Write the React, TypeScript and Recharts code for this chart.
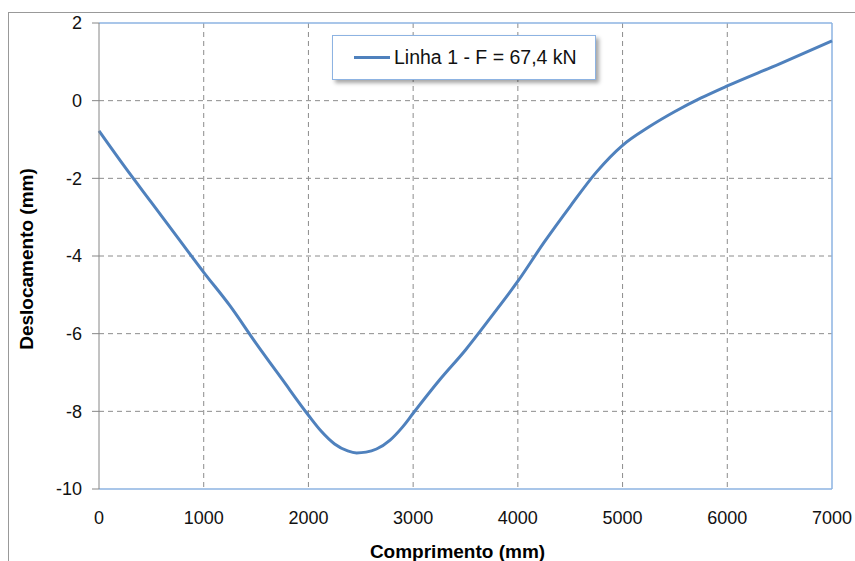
import { CartesianGrid, Line, LineChart, ReferenceLine, XAxis, YAxis } from "recharts";

// comprimento (mm) e deslocamento (mm)
const comprimento = [0, 250, 500, 750, 1000, 1250, 1500, 1750, 2000, 2125, 2250, 2375, 2460, 2550, 2650, 2780, 2900, 3000, 3250, 3500, 3750, 4000, 4250, 4500, 4750, 5000, 5250, 5500, 5750, 6000, 6500, 7000];
const deslocamento = [-0.78, -1.72, -2.62, -3.52, -4.42, -5.28, -6.25, -7.18, -8.1, -8.52, -8.84, -9.02, -9.07, -9.05, -8.97, -8.74, -8.4, -8.05, -7.2, -6.42, -5.55, -4.65, -3.65, -2.72, -1.84, -1.15, -0.68, -0.28, 0.07, 0.38, 0.95, 1.54];

const xTicks = [0, 1000, 2000, 3000, 4000, 5000, 6000, 7000];
const yTicks = [2, 0, -2, -4, -6, -8, -10];

const data = comprimento.map((x, i) => ({ x, y: deslocamento[i] }));

const FONT = "'Liberation Sans', Arial, sans-serif";
const LINE = "#4f81bd";
const BORDER = "#8db3e2";
const GRID = "#8c8c8c";

function LegendBox() {
  return (
    <div
      style={{
        position: "absolute",
        left: 332,
        top: 35,
        width: 262,
        height: 43,
        border: `1px solid ${BORDER}`,
        background: "#fff",
        boxShadow: "3px 3px 4px rgba(0,0,0,0.35)",
        display: "flex",
        alignItems: "center",
        fontFamily: FONT,
        fontSize: 19.5,
        color: "#111",
        whiteSpace: "nowrap",
      }}
    >
      <span style={{ display: "inline-block", width: 36, height: 3, background: LINE, marginLeft: 21, marginRight: 4 }} />
      Linha 1 - F = 67,4 kN
    </div>
  );
}

export default function App() {
  return (
    <div
      style={{
        position: "absolute",
        left: 0,
        top: 0,
        width: 855,
        height: 561,
        overflow: "hidden",
        background: "#fff",
        fontFamily: FONT,
      }}
    >
      <div style={{ position: "absolute", left: 0, top: 0 }}>
        <LineChart width={855} height={561} data={data} margin={{ top: 23, right: 23, bottom: 0, left: 0 }}>
          <CartesianGrid stroke={GRID} strokeDasharray="5 4" horizontalValues={[0, -2, -4, -6, -8]} verticalValues={[1000, 2000, 3000, 4000, 5000, 6000]} />
          <XAxis
            dataKey="x"
            type="number"
            domain={[0, 7000]}
            ticks={xTicks}
            axisLine={false}
            tickLine={false}
            tickMargin={16}
            height={72}
            tick={{ fill: "#111", fontSize: 18, fontFamily: FONT }}
            label={{
              value: "Comprimento (mm)",
              position: "insideBottom",
              offset: 3,
              dx: -8,
              fill: "#000",
              fontSize: 19,
              fontWeight: "bold",
              fontFamily: FONT,
            }}
          />
          <YAxis
            type="number"
            domain={[-10, 2]}
            ticks={yTicks}
            width={99}
            stroke="#868686"
            tickSize={7}
            tickMargin={10}
            tick={{ fill: "#111", fontSize: 18, fontFamily: FONT }}
            label={{
              value: "Deslocamento  (mm)",
              angle: -90,
              position: "center",
              dx: -23,
              dy: 3,
              fill: "#000",
              fontSize: 19,
              fontWeight: "bold",
              fontFamily: FONT,
            }}
          />
          <ReferenceLine y={2} stroke={BORDER} strokeWidth={1.5} />
          <ReferenceLine y={-10} stroke={BORDER} strokeWidth={1.5} />
          <ReferenceLine x={7000} stroke={BORDER} strokeWidth={1.5} />
          <Line
            type="monotone"
            dataKey="y"
            stroke={LINE}
            strokeWidth={3}
            dot={false}
            isAnimationActive={false}
          />
        </LineChart>
      </div>
      <LegendBox />
      <div
        style={{
          position: "absolute",
          left: 8,
          top: 12,
          width: 900,
          height: 600,
          borderTop: "1px solid #999",
          borderLeft: "1px solid #999",
          pointerEvents: "none",
        }}
      />
    </div>
  );
}
